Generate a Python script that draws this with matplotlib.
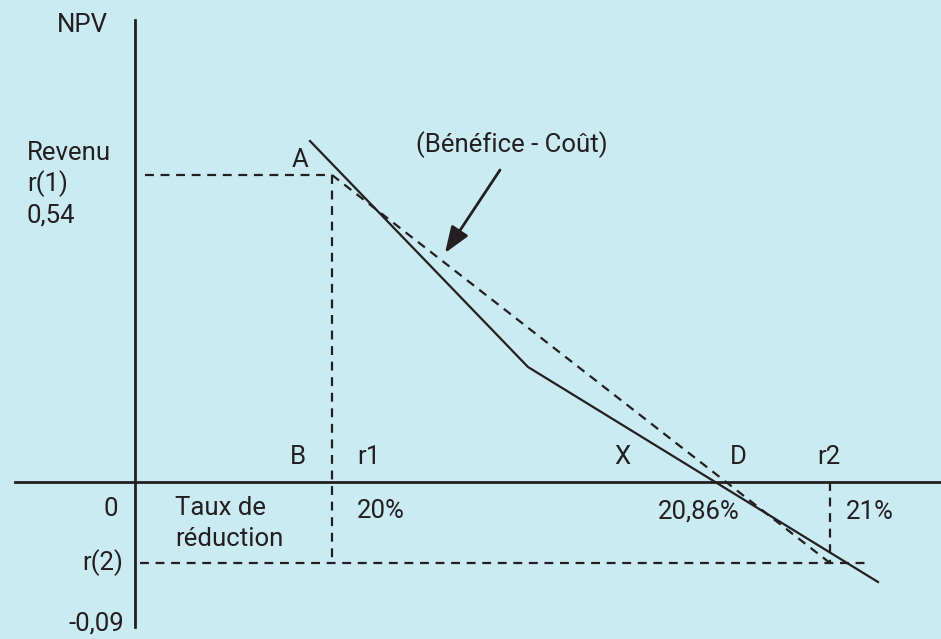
import matplotlib
matplotlib.use("Agg")
import matplotlib.pyplot as plt

# Diagram coordinates (schematic, in layout units)
curve_x = [310, 528, 878]
curve_y = [141, 367, 582]
chord_x = [332, 830]
chord_y = [175, 563]
r1_x = 332
r2_x = 830
y_r1 = 175
y_r2 = 563
y_zero = 482
x_origin = 135

BG = "#cbebf2"
INK = "#231f20"

plt.rcParams["font.family"] = ["Roboto", "DejaVu Sans"]

fig = plt.figure(figsize=(9.41, 6.39), dpi=100, facecolor=BG)
ax = fig.add_axes([0, 0, 1, 1])
ax.set_facecolor(BG)
ax.set_xlim(0, 941)
ax.set_ylim(639, 0)
ax.axis("off")

# axes
ax.plot([x_origin, x_origin], [20, 627], color=INK, lw=2)
ax.plot([15, 941], [y_zero, y_zero], color=INK, lw=2)

dash = dict(color=INK, lw=1.6, linestyle=(0, (4, 3)))
ax.plot([145, r1_x], [y_r1, y_r1], **dash)
ax.plot([r1_x, r1_x], [y_r1, y_r2], **dash)
ax.plot([140, 870], [y_r2, y_r2], **dash)
ax.plot([r2_x, r2_x], [y_zero, y_r2], **dash)
ax.plot(chord_x, chord_y, **dash)

ax.plot(curve_x, curve_y, color=INK, lw=1.6)

ax.annotate("", xy=(445, 253), xytext=(500, 170),
            arrowprops=dict(arrowstyle="-|>,head_length=1.6,head_width=0.6",
                            color=INK, lw=2, shrinkA=0, shrinkB=0))

fs = 18.5
t = dict(color=INK, fontsize=fs, va="center")
ax.text(108, 25, "NPV", ha="right", **t)
ax.text(27, 153, "Revenu", ha="left", **t)
ax.text(27, 184, "r(1)", ha="left", **t)
ax.text(27, 215, "0,54", ha="left", **t)
ax.text(300, 160, "A", ha="center", **t)
ax.text(512, 145, "(Bénéfice - Coût)", ha="center", **t)
ax.text(298, 457, "B", ha="center", **t)
ax.text(357, 457, "r1", ha="left", **t)
ax.text(622, 457, "X", ha="center", **t)
ax.text(738, 457, "D", ha="center", **t)
ax.text(829, 457, "r2", ha="center", **t)
ax.text(118, 509, "0", ha="right", **t)
ax.text(175, 508, "Taux de", ha="left", **t)
ax.text(175, 539, "réduction", ha="left", **t)
ax.text(357, 511, "20%", ha="left", **t)
ax.text(658, 512, "20,86%", ha="left", **t)
ax.text(846, 512, "21%", ha="left", **t)
ax.text(123, 563, "r(2)", ha="right", **t)
ax.text(124, 624, "-0,09", ha="right", **t)

fig.savefig("out.png", dpi=100, facecolor=BG)
